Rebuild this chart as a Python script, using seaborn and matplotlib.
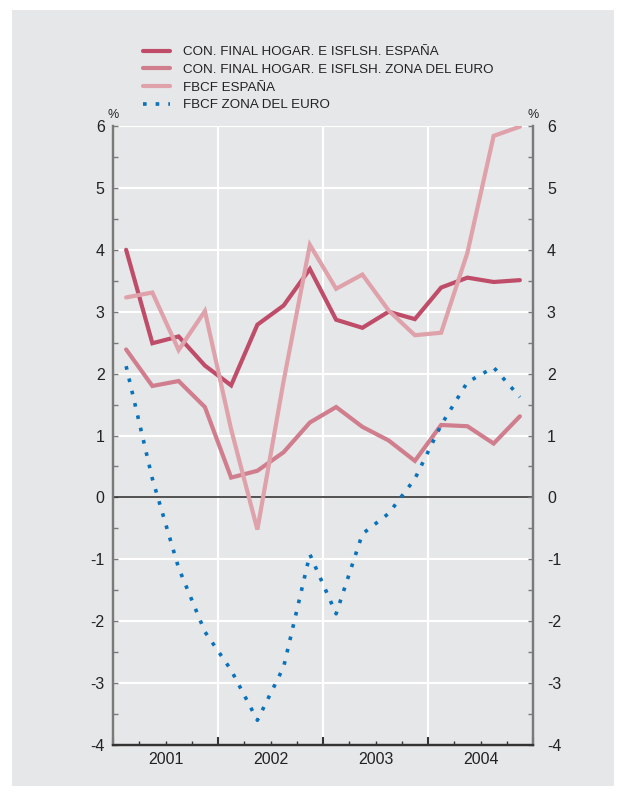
import matplotlib
matplotlib.use('Agg')
import matplotlib.pyplot as plt
from matplotlib.patches import Rectangle
import seaborn as sns

# trimestres 2001 T1 ... 2004 T4
trimestres = list(range(16))
anios = ['2001', '2002', '2003', '2004']

con_espana = [4.00, 2.49, 2.60, 2.13, 1.81, 2.79, 3.10, 3.69,
              2.87, 2.74, 3.00, 2.88, 3.39, 3.55, 3.48, 3.51]
con_euro = [2.39, 1.80, 1.88, 1.46, 0.32, 0.43, 0.73, 1.21,
            1.46, 1.14, 0.92, 0.59, 1.17, 1.15, 0.87, 1.31]
fbcf_espana = [3.23, 3.31, 2.38, 3.01, 1.10, -0.52, 1.88, 4.08,
               3.37, 3.60, 3.02, 2.62, 2.66, 3.95, 5.84, 5.99]
fbcf_euro = [2.12, 0.30, -1.14, -2.17, -2.79, -3.60, -2.74, -0.92,
             -1.88, -0.59, -0.26, 0.30, 1.17, 1.86, 2.10, 1.62]

etiquetas = ['CON. FINAL HOGAR. E ISFLSH. ESPAÑA',
             'CON. FINAL HOGAR. E ISFLSH. ZONA DEL EURO',
             'FBCF ESPAÑA',
             'FBCF ZONA DEL EURO']
colores = ['#bf4d6a', '#d07e8d', '#dfa1aa', '#0a72ba']

BG = '#e6e7e8'

sns.set_style('white')
plt.rcParams['font.family'] = ['Liberation Sans', 'DejaVu Sans']
plt.rcParams['axes.unicode_minus'] = False

fig = plt.figure(figsize=(6.26, 7.96), dpi=100)
fig.patches.append(Rectangle((12 / 626, 1 - 786 / 796), 602 / 626, 776 / 796,
                             transform=fig.transFigure, facecolor=BG,
                             edgecolor='none', zorder=-10))
ax = fig.add_axes([113 / 626, 51 / 796, 420 / 626, 619 / 796])
ax.set_facecolor(BG)

series = [con_espana, con_euro, fbcf_espana, fbcf_euro]
for vals, lab, col in zip(series, etiquetas, colores):
    if lab == 'FBCF ZONA DEL EURO':
        sns.lineplot(x=trimestres, y=vals, ax=ax, color=col, lw=2.6,
                     linestyle=(0, (1, 2.5)), dash_capstyle='butt', label=lab)
    else:
        sns.lineplot(x=trimestres, y=vals, ax=ax, color=col, lw=3,
                     solid_joinstyle='miter', label=lab)

ax.set_xlim(-0.5, 15.5)
ax.set_ylim(-4, 6)

# rejilla
ax.set_axisbelow(True)
ax.set_yticks(range(-4, 7))
ax.set_yticks([v + 0.5 for v in range(-4, 6)], minor=True)
ax.grid(axis='y', which='major', color='white', lw=1.5)
for b in [3.5, 7.5, 11.5]:
    ax.axvline(b, color='white', lw=1.5, zorder=0.5)
ax.axhline(0, color='#333333', lw=1.2, zorder=1)

# eje x
ax.set_xticks([-0.5, 3.5, 7.5, 11.5, 15.5])
ax.set_xticklabels([''] * 5)
minors = [q + 0.5 for q in range(-1, 15) if (q + 1) % 4 != 0]
ax.set_xticks(minors, minor=True)
ax.set_xticklabels([anios[int((m - 1.5) // 4)] if (m - 1.5) % 4 == 0 else ''
                    for m in minors], minor=True, fontsize=11.5, color='#222222')
ax.tick_params(axis='x', which='major', direction='in', length=6, width=1.5,
               color='#333333', bottom=True)
ax.tick_params(axis='x', which='minor', direction='in', length=3, width=1,
               color='#333333', bottom=True, pad=5)

# eje y izquierdo y derecho
ax.tick_params(axis='y', which='both', direction='in', length=3.5, width=1,
               color='#7a7a7a', left=True, labelsize=11.5, labelcolor='#222222', pad=6)
ax2 = ax.twinx()
ax2.set_ylim(ax.get_ylim())
ax2.set_yticks(range(-4, 7))
ax2.set_yticks([v + 0.5 for v in range(-4, 6)], minor=True)
ax2.tick_params(axis='y', which='both', direction='in', length=3.5, width=1,
                color='#7a7a7a', right=True, labelsize=11.5, labelcolor='#222222', pad=10)

for a in (ax, ax2):
    a.spines['top'].set_visible(False)
    a.spines['left'].set_color('#7a7a7a')
    a.spines['right'].set_color('#7a7a7a')
    a.spines['left'].set_linewidth(1.6)
    a.spines['right'].set_linewidth(1.6)
    a.spines['bottom'].set_color('#333333')
    a.spines['bottom'].set_linewidth(1.6)

ax.annotate('%', xy=(0, 1), xycoords='axes fraction', xytext=(0, 7.6),
            textcoords='offset points', ha='center', va='center', fontsize=9, color='#222222')
ax.annotate('%', xy=(1, 1), xycoords='axes fraction', xytext=(0, 7.6),
            textcoords='offset points', ha='center', va='center', fontsize=9, color='#222222')

handles, labels = ax.get_legend_handles_labels()
ax.get_legend().remove()
fig.legend(handles, labels, loc='upper left',
           bbox_to_anchor=(143 / 626, 1 - 46 / 796), frameon=False,
           fontsize=9.6, handlelength=2.0, handletextpad=1.0,
           labelspacing=0.4, borderpad=0, borderaxespad=0,
           labelcolor='#222222')

fig.savefig('out.png', dpi=100, facecolor='white')
